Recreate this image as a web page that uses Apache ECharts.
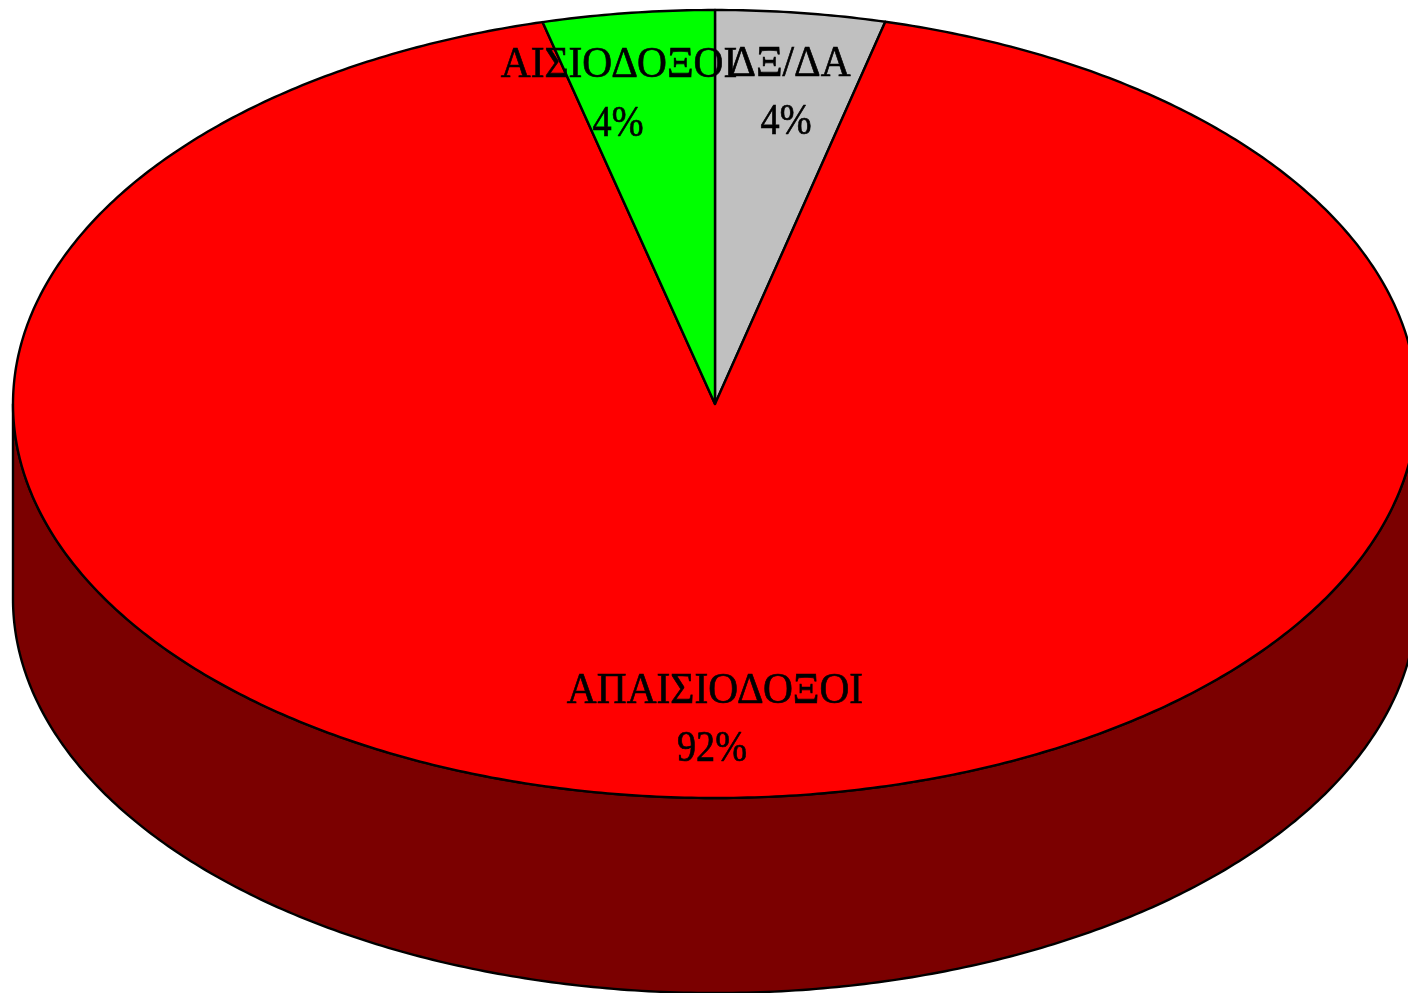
<!DOCTYPE html>
<html>
<head>
<meta charset="utf-8">
<style>html,body{margin:0;padding:0;background:#fff;overflow:hidden}#c{width:1408px;height:993px}</style>
<script src="https://cdn.jsdelivr.net/npm/echarts@6/dist/echarts.min.js"></script>
</head>
<body>
<div id="c"></div>
<script>
// Data, clockwise from 12 o'clock
const categories = ['ΔΞ/ΔΑ', 'ΑΠΑΙΣΙΟΔΟΞΟΙ', 'ΑΙΣΙΟΔΟΞΟΙ'];
const values = [3.9, 92.15, 3.95];
const topColors = ['#c0c0c0', '#ff0000', '#00ff00'];
const sideColors = ['#606060', '#7b0000', '#007b00'];

// Layout of the tilted pie
const CX = 715, CY = 404, RX = 702, RY = 394, DEPTH = 195;
const nameCenters = [[790, 64], [715, 691], [619, 65]];
const pctCenters = [[786, 122], [712, 749], [618, 124]];
const total = values.reduce((a, b) => a + b, 0);

function ell(t, dy) {
  return [CX + RX * Math.sin(t), CY + (dy || 0) - RY * Math.cos(t)];
}
function arc(a, b, dy) {
  const pts = [];
  const n = Math.max(2, Math.ceil(Math.abs(b - a) / 0.01));
  for (let i = 0; i <= n; i++) pts.push(ell(a + (b - a) * i / n, dy));
  return pts;
}

function renderItem(params, api) {
  const idx = params.dataIndex;
  let start = 0;
  for (let i = 0; i < idx; i++) start += values[i];
  const a = start / total * 2 * Math.PI;
  const b = (start + api.value(0)) / total * 2 * Math.PI;
  const children = [];
  const stroke = { stroke: '#000', lineWidth: 2.4, lineJoin: 'round' };
  // front wall: the part of the slice rim that faces the viewer
  const fa = Math.max(a, Math.PI / 2), fb = Math.min(b, 3 * Math.PI / 2);
  if (fb > fa) {
    children.push({
      type: 'polygon',
      shape: { points: arc(fa, fb, 0).concat(arc(fb, fa, DEPTH)) },
      style: Object.assign({ fill: sideColors[idx] }, stroke)
    });
  }
  // top face
  children.push({
    type: 'polygon',
    shape: { points: [[CX, CY]].concat(arc(a, b, 0)) },
    style: Object.assign({ fill: topColors[idx] }, stroke)
  });
  return { type: 'group', children };
}

function textLine(str, pos, sx) {
  return {
    type: 'text',
    x: pos[0],
    y: pos[1],
    scaleX: sx,
    style: {
      text: str,
      fontFamily: '"Liberation Serif", serif',
      fontSize: 45,
      fill: '#000',
      stroke: '#000',
      lineWidth: 0.7,
      align: 'center',
      verticalAlign: 'middle'
    }
  };
}

function renderLabel(params, api) {
  const idx = params.dataIndex;
  return {
    type: 'group',
    children: [
      textLine(categories[idx], nameCenters[idx], 0.92),
      textLine(Math.round(api.value(0) / total * 100) + '%', pctCenters[idx], 0.85)
    ]
  };
}

const chart = echarts.init(document.getElementById('c'), null, { renderer: 'canvas' });
chart.setOption({
  backgroundColor: '#fff',
  animation: false,
  series: [
    {
      type: 'custom',
      coordinateSystem: 'none',
      renderItem,
      data: values.map(v => [v]),
      z: 1,
      silent: true
    },
    {
      type: 'custom',
      coordinateSystem: 'none',
      renderItem: renderLabel,
      data: values.map(v => [v]),
      z: 2,
      silent: true
    }
  ]
});
</script>
</body>
</html>
